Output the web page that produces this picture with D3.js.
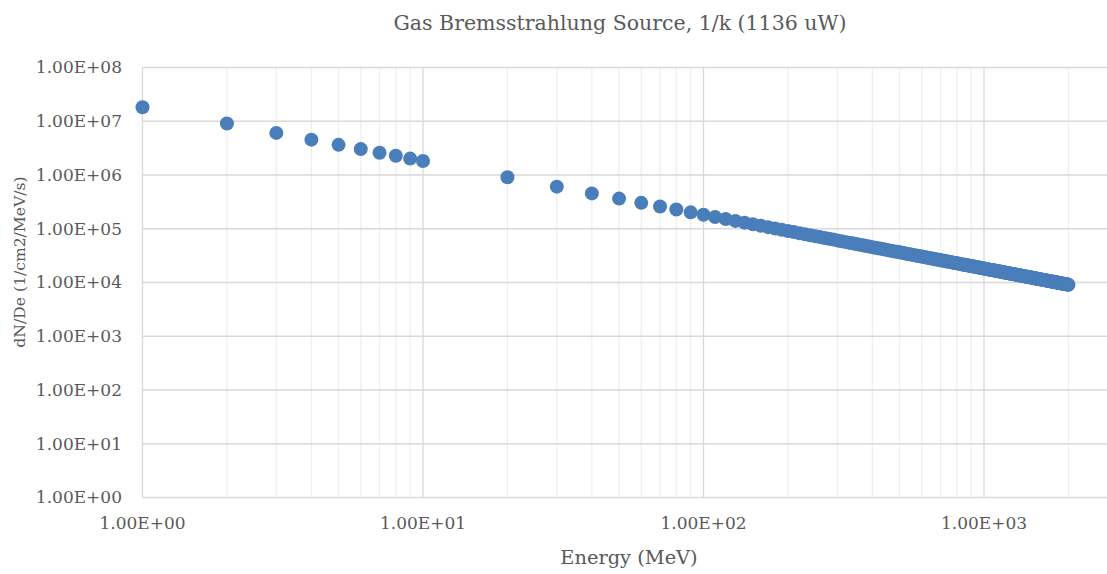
<!DOCTYPE html>
<html>
<head>
<meta charset="utf-8">
<script src="https://cdnjs.cloudflare.com/ajax/libs/d3/7.8.5/d3.min.js"></script>
<style>
  body { margin: 0; background: #fff; }
  text { font-family: "DejaVu Serif", "Liberation Serif", serif; fill: #595959; }
</style>
</head>
<body>
<div class="chart"></div>
<script>
// data
var energies = [1, 2, 3, 4, 5, 6, 7, 8, 9, 10,
  20, 30, 40, 50, 60, 70, 80, 90, 100,
  110, 120, 130, 140, 150, 160, 170, 180, 190, 200,
  210, 220, 230, 240, 250, 260, 270, 280, 290, 300,
  310, 320, 330, 340, 350, 360, 370, 380, 390, 400,
  410, 420, 430, 440, 450, 460, 470, 480, 490, 500,
  510, 520, 530, 540, 550, 560, 570, 580, 590, 600,
  610, 620, 630, 640, 650, 660, 670, 680, 690, 700,
  710, 720, 730, 740, 750, 760, 770, 780, 790, 800,
  810, 820, 830, 840, 850, 860, 870, 880, 890, 900,
  910, 920, 930, 940, 950, 960, 970, 980, 990, 1000,
  1010, 1020, 1030, 1040, 1050, 1060, 1070, 1080, 1090, 1100,
  1110, 1120, 1130, 1140, 1150, 1160, 1170, 1180, 1190, 1200,
  1210, 1220, 1230, 1240, 1250, 1260, 1270, 1280, 1290, 1300,
  1310, 1320, 1330, 1340, 1350, 1360, 1370, 1380, 1390, 1400,
  1410, 1420, 1430, 1440, 1450, 1460, 1470, 1480, 1490, 1500,
  1510, 1520, 1530, 1540, 1550, 1560, 1570, 1580, 1590, 1600,
  1610, 1620, 1630, 1640, 1650, 1660, 1670, 1680, 1690, 1700,
  1710, 1720, 1730, 1740, 1750, 1760, 1770, 1780, 1790, 1800,
  1810, 1820, 1830, 1840, 1850, 1860, 1870, 1880, 1890, 1900,
  1910, 1920, 1930, 1940, 1950, 1960, 1970, 1980, 1990, 2000];

var flux = [18200000, 9100000, 6070000, 4550000, 3640000, 3030000, 2600000, 2280000, 2020000, 1820000,
  910000, 607000, 455000, 364000, 303000, 260000, 228000, 202000, 182000,
  165500, 151700, 140000, 130000, 121300, 113800, 107100, 101100, 95790, 91000,
  86670, 82730, 79130, 75830, 72800, 70000, 67410, 65000, 62760, 60670,
  58710, 56880, 55150, 53530, 52000, 50560, 49190, 47890, 46670, 45500,
  44390, 43330, 42330, 41360, 40440, 39570, 38720, 37920, 37140, 36400,
  35690, 35000, 34340, 33700, 33090, 32500, 31930, 31380, 30850, 30330,
  29840, 29350, 28890, 28440, 28000, 27580, 27160, 26760, 26380, 26000,
  25630, 25280, 24930, 24590, 24270, 23950, 23640, 23330, 23040, 22750,
  22470, 22200, 21930, 21670, 21410, 21160, 20920, 20680, 20450, 20220,
  20000, 19780, 19570, 19360, 19160, 18960, 18760, 18570, 18380, 18200,
  18020, 17840, 17670, 17500, 17330, 17170, 17010, 16850, 16700, 16550,
  16400, 16250, 16110, 15970, 15830, 15690, 15560, 15420, 15290, 15170,
  15040, 14920, 14800, 14680, 14560, 14440, 14330, 14220, 14110, 14000,
  13890, 13790, 13680, 13580, 13480, 13380, 13280, 13190, 13090, 13000,
  12910, 12820, 12730, 12640, 12550, 12470, 12380, 12300, 12210, 12130,
  12050, 11970, 11900, 11820, 11740, 11670, 11590, 11520, 11450, 11380,
  11300, 11230, 11170, 11100, 11030, 10960, 10900, 10830, 10770, 10710,
  10640, 10580, 10520, 10460, 10400, 10340, 10280, 10220, 10170, 10110,
  10060, 10000, 9945, 9891, 9838, 9785, 9733, 9681, 9630, 9579,
  9529, 9479, 9430, 9381, 9333, 9286, 9239, 9192, 9146, 9100];

var xTicks = [1, 10, 100, 1000];
var yTicks = [1, 10, 100, 1000, 10000, 100000, 1000000, 10000000, 100000000];
var xMinor = [2, 3, 4, 5, 6, 7, 8, 9, 20, 30, 40, 50, 60, 70, 80, 90,
  200, 300, 400, 500, 600, 700, 800, 900, 2000, 3000];

var title = "Gas Bremsstrahlung Source, 1/k (1136 uW)";
var xTitle = "Energy (MeV)";
var yTitle = "dN/De (1/cm2/MeV/s)";

var W = 1107, H = 574;
var plotLeft = 142.5, plotTop = 67.5, plotBottom = 497.5, decade = 280.5;

var svg = d3.select(".chart").append("svg")
    .attr("width", W)
    .attr("height", H);

var x = d3.scaleLog().domain([1, 10000]).range([plotLeft, plotLeft + 4 * decade]);
var y = d3.scaleLog().domain([1, 1e8]).range([plotBottom, plotTop]);
var fmt = function (d) { return d.toExponential(2).replace("e", "E").replace(/E([+-])(\d)$/, "E$10$2"); };

// minor vertical gridlines
svg.append("g").selectAll("line")
    .data(xMinor)
    .enter().append("line")
    .attr("x1", function (d) { return x(d); })
    .attr("x2", function (d) { return x(d); })
    .attr("y1", plotTop)
    .attr("y2", plotBottom)
    .attr("stroke", "#efefef")
    .attr("stroke-width", 1.3);

// major gridlines
svg.append("g").selectAll("line")
    .data(xTicks)
    .enter().append("line")
    .attr("x1", function (d) { return x(d); })
    .attr("x2", function (d) { return x(d); })
    .attr("y1", plotTop)
    .attr("y2", plotBottom)
    .attr("stroke", "#d9d9d9")
    .attr("stroke-width", 1.3);

svg.append("g").selectAll("line")
    .data(yTicks)
    .enter().append("line")
    .attr("x1", plotLeft)
    .attr("x2", W)
    .attr("y1", function (d) { return y(d); })
    .attr("y2", function (d) { return y(d); })
    .attr("stroke", "#d9d9d9")
    .attr("stroke-width", 1.3);

// tick labels
svg.append("g").selectAll("text")
    .data(yTicks)
    .enter().append("text")
    .attr("x", 122)
    .attr("y", function (d) { return y(d); })
    .attr("dy", "0.35em")
    .attr("text-anchor", "end")
    .style("font-size", "17px")
    .text(fmt);

svg.append("g").selectAll("text")
    .data(xTicks)
    .enter().append("text")
    .attr("x", function (d) { return x(d); })
    .attr("y", 523)
    .attr("dy", "0.35em")
    .attr("text-anchor", "middle")
    .style("font-size", "17px")
    .text(fmt);

// points
var pts = energies.map(function (e, i) { return {e: e, v: flux[i]}; });
svg.append("g").selectAll("circle")
    .data(pts)
    .enter().append("circle")
    .attr("cx", function (d) { return x(d.e); })
    .attr("cy", function (d) { return y(d.v); })
    .attr("r", 7)
    .attr("fill", "#4a7ebb");

// titles
svg.append("text")
    .attr("x", 620)
    .attr("y", 23)
    .attr("dy", "0.35em")
    .attr("text-anchor", "middle")
    .style("font-size", "20.5px")
    .text(title);

svg.append("text")
    .attr("x", 629)
    .attr("y", 557)
    .attr("dy", "0.35em")
    .attr("text-anchor", "middle")
    .style("font-size", "19.4px")
    .text(xTitle);

svg.append("text")
    .attr("transform", "translate(20,262) rotate(-90)")
    .attr("dy", "0.35em")
    .attr("text-anchor", "middle")
    .style("font-size", "15.6px")
    .text(yTitle);
</script>
</body>
</html>
